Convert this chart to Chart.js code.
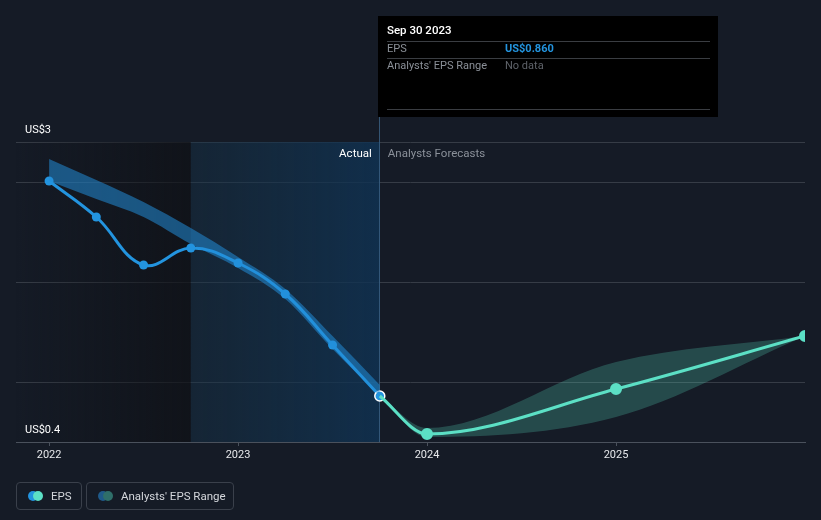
<!DOCTYPE html>
<html>
<head>
<meta charset="utf-8">
<script src="https://cdn.jsdelivr.net/npm/chart.js@4"></script>
<style>
	html, body { margin: 0; padding: 0; background: #151b26; }
	#wrap { position: relative; width: 821px; height: 520px; font-family: Roboto, "Noto Sans", sans-serif; }
	#myChart { position: absolute; left: 0; top: 0; }
	.leyenda { position: absolute; top: 482px; height: 26px; border: 1px solid #3a404b; border-radius: 4px; box-sizing: content-box; color: #d4d7dc; font-size: 11.5px; line-height: 26px; }
	.leyenda .dot { position: absolute; top: 8px; width: 10px; height: 10px; border-radius: 50%; }
	.leyenda span.txt { position: absolute; white-space: nowrap; }
</style>
</head>
<body>
<div id="wrap">
	<canvas id="myChart" width="821" height="520"></canvas>
	<div class="leyenda" style="left:16px; width:64px;">
		<div class="dot" style="left:11px; background:#2394df;"></div>
		<div class="dot" style="left:16px; background:#5ce0c6;"></div>
		<span class="txt" style="left:34px;">EPS</span>
	</div>
	<div class="leyenda" style="left:86px; width:146px;">
		<div class="dot" style="left:11px; background:#1f5a8a;"></div>
		<div class="dot" style="left:16px; background:#2f6f6a;"></div>
		<span class="txt" style="left:34px;">Analysts' EPS Range</span>
	</div>
</div>
<script>
// datos (x = año decimal)
const fechasReales = [2022.0, 2022.25, 2022.5, 2022.75, 2023.0, 2023.25, 2023.5, 2023.75];
const epsReal = [3.01, 2.65, 2.17, 2.34, 2.19, 1.88, 1.37, 0.86];

const fechasPrevision = [2023.75, 2024.0, 2025.0, 2026.0];
const epsPrevision = [0.86, 0.48, 0.93, 1.46];

const rangoPasadoAlto = [3.23, 3.02, 2.80, 2.54, 2.25, 1.93, 1.46, 0.97];
const rangoPasadoBajo = [3.01, 2.83, 2.65, 2.38, 2.14, 1.83, 1.33, 0.86];

const rangoFuturoAlto = [0.86, 0.54, 1.20, 1.46];
const rangoFuturoBajo = [0.86, 0.45, 0.65, 1.46];

const años = [2022, 2023, 2024, 2025];
const lineasY = [0.4, 1, 2, 3, 3.4];
const etiquetaArriba = 'US$3';
const etiquetaAbajo = 'US$0.4';

const inicioZona = 2022.75;
const finReal = 2023.75;

(function () {

	const ctx = document.getElementById('myChart');
	const puntos = (xs, ys) => xs.map((x, i) => ({ x: x, y: ys[i] }));

	// fondos: zona oscura y zona azul (actual)
	const fondos = {
		id: 'fondos',
		beforeDatasetsDraw(chart) {
			const { ctx, chartArea: a, scales: { x } } = chart;
			const x1 = x.getPixelForValue(inicioZona);
			const x2 = x.getPixelForValue(finReal);
			ctx.save();
			let g = ctx.createLinearGradient(a.left, 0, x1, 0);
			g.addColorStop(0, 'rgba(15,17,22,0)');
			g.addColorStop(1, 'rgba(15,17,22,0.75)');
			ctx.fillStyle = g;
			ctx.fillRect(a.left, a.top, x1 - a.left, a.bottom - a.top);
			g = ctx.createLinearGradient(x1, 0, x2, 0);
			g.addColorStop(0, 'rgba(22,50,72,0.45)');
			g.addColorStop(1, 'rgba(16,50,82,0.85)');
			ctx.fillStyle = g;
			ctx.fillRect(x1, a.top, x2 - x1, a.bottom - a.top);
			ctx.strokeStyle = 'rgba(60,100,135,0.8)';
			ctx.lineWidth = 1;
			ctx.beginPath();
			ctx.moveTo(Math.round(x2) - 0.5, 117);
			ctx.lineTo(Math.round(x2) - 0.5, a.bottom);
			ctx.stroke();
			ctx.font = '11.5px Roboto, sans-serif';
			ctx.textBaseline = 'middle';
			ctx.textAlign = 'right';
			ctx.fillStyle = '#ffffff';
			ctx.fillText('Actual', x2 - 8, a.top + 12);
			ctx.textAlign = 'left';
			ctx.fillStyle = '#8b919a';
			ctx.fillText('Analysts Forecasts', x2 + 8, a.top + 12);
			ctx.restore();
		},
		afterDraw(chart) {
			const { ctx, chartArea: a } = chart;
			ctx.save();
			ctx.font = '11px Roboto, sans-serif';
			ctx.textBaseline = 'middle';
			ctx.textAlign = 'left';
			ctx.fillStyle = '#ffffff';
			ctx.fillText(etiquetaArriba, a.left + 9, a.top - 12);
			ctx.fillText(etiquetaAbajo, a.left + 9, a.bottom - 12);

			// caja de informacion
			ctx.fillStyle = '#000000';
			ctx.fillRect(378, 16, 340, 101);
			ctx.strokeStyle = '#3a3d42';
			ctx.beginPath();
			ctx.moveTo(387, 41.5); ctx.lineTo(710, 41.5);
			ctx.moveTo(387, 58.5); ctx.lineTo(710, 58.5);
			ctx.moveTo(387, 109.5); ctx.lineTo(710, 109.5);
			ctx.stroke();
			ctx.font = '500 11.5px Roboto, sans-serif';
			ctx.fillStyle = '#ffffff';
			ctx.fillText('Sep 30 2023', 387, 31);
			ctx.font = '11px Roboto, sans-serif';
			ctx.fillStyle = '#8b9098';
			ctx.fillText('EPS', 387, 49);
			ctx.fillText("Analysts' EPS Range", 387, 66);
			ctx.font = 'bold 11px Roboto, sans-serif';
			ctx.fillStyle = '#2394df';
			ctx.fillText('US$0.860', 505, 49);
			ctx.font = '11px Roboto, sans-serif';
			ctx.fillStyle = '#5f636a';
			ctx.fillText('No data', 505, 66);
			ctx.restore();
		}
	};

	new Chart(ctx, {
		type: 'line',
		data: {
			datasets: [
				{
					data: puntos(fechasReales, rangoPasadoBajo),
					borderWidth: 0, pointRadius: 0, cubicInterpolationMode: 'monotone', fill: false
				},
				{
					data: puntos(fechasReales, rangoPasadoAlto),
					borderWidth: 0, pointRadius: 0, cubicInterpolationMode: 'monotone',
					fill: '-1', backgroundColor: 'rgba(35,140,215,0.55)'
				},
				{
					data: puntos(fechasPrevision, rangoFuturoBajo),
					borderWidth: 0, pointRadius: 0, cubicInterpolationMode: 'monotone', fill: false
				},
				{
					data: puntos(fechasPrevision, rangoFuturoAlto),
					borderWidth: 0, pointRadius: 0, cubicInterpolationMode: 'monotone',
					fill: '-1', backgroundColor: 'rgba(92,224,198,0.24)'
				},
				{
					label: 'EPS',
					data: puntos(fechasPrevision, epsPrevision),
					borderColor: '#5ce0c6', backgroundColor: '#5ce0c6',
					borderWidth: 3, pointRadius: c => c.dataIndex === 0 ? 0 : 4.5,
					cubicInterpolationMode: 'monotone', fill: false
				},
				{
					label: 'EPS',
					data: puntos(fechasReales, epsReal),
					borderColor: '#2394df', backgroundColor: '#2394df',
					borderWidth: 3, tension: 0.4, fill: false,
					pointRadius: c => c.dataIndex === fechasReales.length - 1 ? 5 : 4.5,
					pointBorderColor: c => c.dataIndex === fechasReales.length - 1 ? '#ffffff' : '#2394df',
					pointBorderWidth: c => c.dataIndex === fechasReales.length - 1 ? 1.5 : 0
				}
			]
		},
		options: {
			responsive: false,
			animation: false,
			events: [],
			layout: { padding: { left: 16, right: 16, top: 142, bottom: 0 } },
			plugins: { legend: { display: false }, tooltip: { enabled: false } },
			scales: {
				x: {
					type: 'linear',
					min: 2021.825,
					max: 2026,
					afterFit: s => { s.height = 78; },
					afterBuildTicks: s => { s.ticks = años.map(v => ({ value: v })); },
					grid: { drawOnChartArea: false, drawTicks: true, tickLength: 4, color: '#4a515c' },
					border: { color: '#4a515c' },
					ticks: {
						color: '#e6e8eb', font: { family: 'Roboto', size: 11 }, padding: 3,
						callback: v => String(Math.round(v))
					}
				},
				y: {
					min: 0.4,
					max: 3.4,
					afterFit: s => { s.width = 0; },
					afterBuildTicks: s => { s.ticks = lineasY.map(v => ({ value: v })); },
					grid: { color: '#363c46', drawTicks: false },
					border: { display: false },
					ticks: { display: false }
				}
			}
		},
		plugins: [fondos]
	});

})();
</script>
</body>
</html>
